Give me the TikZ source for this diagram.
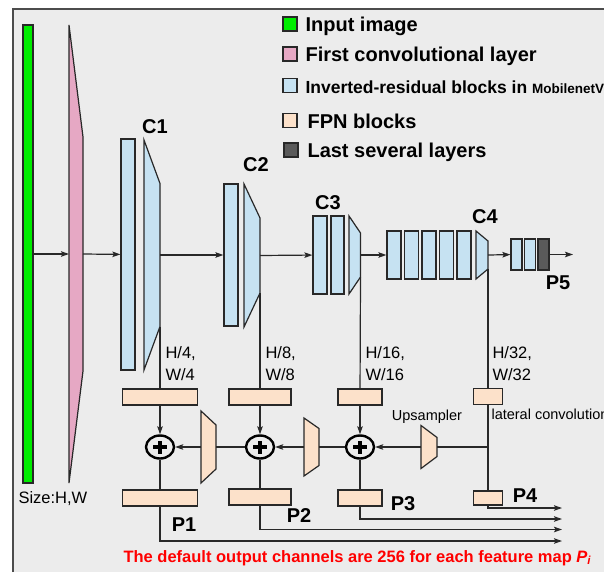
\documentclass[tikz,border=0pt]{standalone}
\usepackage{fontspec}
\setmainfont{Liberation Sans}
\usetikzlibrary{arrows.meta,shapes.geometric}
\definecolor{bgcol}{RGB}{236,236,236}
\definecolor{incol}{RGB}{0,238,0}
\definecolor{convcol}{RGB}{230,168,196}
\definecolor{ircol}{RGB}{198,226,242}
\definecolor{fpncol}{RGB}{252,225,202}
\definecolor{lastcol}{RGB}{90,90,90}
\definecolor{edgecol}{RGB}{40,40,40}
\tikzset{
  blk/.style={rectangle,draw=edgecol,line width=1.2pt,inner sep=0pt},
  ir/.style={blk,fill=ircol,minimum width=14pt},
  fpn/.style={blk,fill=fpncol,minimum height=16pt},
  line/.style={draw=edgecol,line width=1.2pt},
  arr/.style={line,-{Stealth[length=8pt,width=5.5pt,inset=1.5pt]}},
  sumnode/.style={ellipse,draw=black,line width=2.4pt,minimum width=28pt,minimum height=23pt,inner sep=0pt,
    path picture={\draw[line width=3.2pt] ([xshift=-7pt]path picture bounding box.center) -- ([xshift=7pt]path picture bounding box.center);
                  \draw[line width=3.2pt] ([yshift=-6.5pt]path picture bounding box.center) -- ([yshift=6.5pt]path picture bounding box.center);}},
  clabel/.style={font=\fontsize{20}{24}\selectfont\bfseries},
  dimlabel/.style={font=\fontsize{16.5}{22}\selectfont,align=left,anchor=west},
  legtext/.style={anchor=west,font=\fontsize{20}{24}\selectfont\bfseries},
  legbox/.style={blk,minimum width=14pt,minimum height=14pt}
}
% trapezoid: name, fill, x left, x right, half height left, half height right, y centre
\newcommand{\trapz}[7]{%
  \draw[line,fill=#2] (#3,#7-#5) -- (#4,#7-#6) -- (#4,#7+#6) -- (#3,#7+#5) -- cycle;
  \coordinate (#1-l) at (#3,#7);
  \coordinate (#1-r) at (#4,#7);
  \coordinate (#1-rb) at (#4,#7+#6);}

\begin{document}
\begin{tikzpicture}[x=1pt,y=-1pt]
  \useasboundingbox (0,0) rectangle (604,572);
  \fill[bgcol] (13,9) rectangle (604,572);
  \draw[draw=black!70,line width=1.5pt] (13,572) -- (13,9) -- (604,9);

  % legend
  \node (leg1) [legbox,fill=incol]   at (290,24)    {};
  \node (leg2) [legbox,fill=convcol] at (290,54)    {};
  \node (leg3) [legbox,fill=ircol]   at (290,85.5)  {};
  \node (leg4) [legbox,fill=fpncol]  at (290,120.5) {};
  \node (leg5) [legbox,fill=lastcol] at (291,150)   {};
  \node (legt1) [legtext] at (302,26.5)  {Input image};
  \node (legt2) [legtext] at (302,56)  {First convolutional layer};
  \node (legt3) [legtext,font=\fontsize{17.5}{20}\selectfont\bfseries] at (302,87.5)
        {Inverted-residual blocks in {\fontsize{13.5}{15}\selectfont MobilenetV3}};
  \node (legt4) [legtext] at (304,121.5) {FPN blocks};
  \node (legt5) [legtext] at (304,152) {Last several layers};

  % input and first convolution
  \node (input) [blk,fill=incol,minimum width=10pt,minimum height=458pt] at (28,254) {};
  \trapz{conv}{convcol}{69}{83}{229}{117}{254}
  \node (size) [dimlabel] at (15,499) {Size:H,W};

  % backbone stages
  \node (c1a) [ir,minimum height=231pt] at (128,254.5) {};
  \trapz{c1t}{ircol}{144}{160}{115}{71.5}{255}
  \node (c1lab) [clabel] at (155,127) {C1};

  \node (c2a) [ir,minimum height=142pt] at (231,255) {};
  \trapz{c2t}{ircol}{244}{260}{71.5}{37.5}{255.5}
  \node (c2lab) [clabel] at (256,165) {C2};

  \node (c3a) [ir,minimum height=78pt] at (320,255) {};
  \node (c3b) [ir,minimum height=78pt,minimum width=13pt] at (337.5,255) {};
  \trapz{c3t}{ircol}{349}{360.5}{39}{22}{255}
  \node (c3lab) [clabel] at (328,203) {C3};

  \node (c4a) [ir,minimum height=48pt] at (394,255) {};
  \node (c4b) [ir,minimum height=48pt] at (411.5,255) {};
  \node (c4c) [ir,minimum height=48pt] at (429,255) {};
  \node (c4d) [ir,minimum height=48pt] at (446.5,255) {};
  \node (c4e) [ir,minimum height=48pt] at (464,255) {};
  \trapz{c4t}{ircol}{476}{488}{24}{14}{255}
  \node (c4lab) [clabel] at (485,217) {C4};

  \node (c5a) [ir,minimum height=31pt,minimum width=11pt] at (516.5,254.5) {};
  \node (c5b) [ir,minimum height=31pt,minimum width=11pt] at (530,254.5) {};
  \node (c5c) [blk,fill=lastcol,minimum height=31pt,minimum width=11pt] at (543.5,254.5) {};
  \node (p5lab) [clabel] at (558,283) {P5};
  \coordinate (p5end) at (573,254.5);

  \draw[arr] (input) -- (conv-l);
  \draw[arr] (conv-r) -- (c1a);
  \draw[arr] (c1t-r) -- (c2a);
  \draw[arr] (c2t-r) -- (c3a);
  \draw[arr] (c3t-r) -- (c4a);
  \draw[arr] (c4t-r) -- (c5a);
  \draw[arr] (c5c) -- (p5end);

  % size labels
  \node (d1) [dimlabel] at (162,364) {H/4,\\W/4};
  \node (d2) [dimlabel] at (262,364) {H/8,\\W/8};
  \node (d3) [dimlabel] at (362,364) {H/16,\\W/16};
  \node (d4) [dimlabel] at (489,364) {H/32,\\W/32};

  % FPN lateral blocks, sums and outputs
  \node (lat1) [fpn,minimum width=75pt] at (160,397) {};
  \node (lat2) [fpn,minimum width=62pt] at (260,397) {};
  \node (lat3) [fpn,minimum width=44pt] at (360,397) {};
  \node (lat4) [fpn,minimum width=29pt] at (488,396.5) {};
  \node (s1) [sumnode] at (160,447) {};
  \node (s2) [sumnode] at (260,447) {};
  \node (s3) [sumnode] at (360,447) {};
  \node (out1) [fpn,minimum width=75pt] at (160,498) {};
  \node (out2) [fpn,minimum width=62pt] at (260,497) {};
  \node (out3) [fpn,minimum width=44pt] at (360,498) {};
  \node (out4) [fpn,minimum width=29pt,minimum height=14pt] at (488,498) {};
  \trapz{u1}{fpncol}{201}{216}{36}{22}{447}
  \trapz{u2}{fpncol}{304}{319}{29}{18.5}{447}
  \trapz{u3}{fpncol}{421}{437}{21.5}{9.5}{447}
  \coordinate (j4) at (488,447);
  \coordinate (e1) at (562,541);
  \coordinate (e2) at (562,529.5);
  \coordinate (e3) at (562,519);
  \coordinate (e4) at (562,508);

  \node (p1lab) [clabel] at (184,525) {P1};
  \node (p2lab) [clabel] at (299,516) {P2};
  \node (p3lab) [clabel] at (403,504) {P3};
  \node (p4lab) [clabel] at (525,496) {P4};
  \node (upsam) [font=\fontsize{14.5}{17}\selectfont] at (427,417) {Upsampler};
  \node (latconv) [anchor=west,font=\fontsize{14.5}{17}\selectfont] at (488,414) {lateral convolution};

  \draw[line] (c1t-rb) -- (lat1);
  \draw[line] (c2t-rb) -- (lat2);
  \draw[line] (c3t-rb) -- (lat3);
  \draw[line] (c4t-rb) -- (lat4);
  \draw[arr] (lat1) -- (s1);
  \draw[arr] (lat2) -- (s2);
  \draw[arr] (lat3) -- (s3);
  \draw[line] (lat4) -- (out4);
  \draw[line] (j4) -- (u3-r);
  \draw[arr] (u3-l) -- (s3);
  \draw[line] (s3) -- (u2-r);
  \draw[arr] (u2-l) -- (s2);
  \draw[line] (s2) -- (u1-r);
  \draw[arr] (u1-l) -- (s1);
  \draw[line] (s1) -- (out1);
  \draw[line] (s2) -- (out2);
  \draw[line] (s3) -- (out3);
  \draw[arr] (out1.south) |- (e1);
  \draw[arr] (out2.south) |- (e2);
  \draw[arr] (out3.south) |- (e3);
  \draw[arr] (out4.south) |- (e4);

  \node (note) [anchor=west,text=red,font=\fontsize{16.5}{20}\selectfont\bfseries] at (120,558)
        {The default output channels are 256 for each feature map \textit{P\textsubscript{i}}};
\end{tikzpicture}
\end{document}
